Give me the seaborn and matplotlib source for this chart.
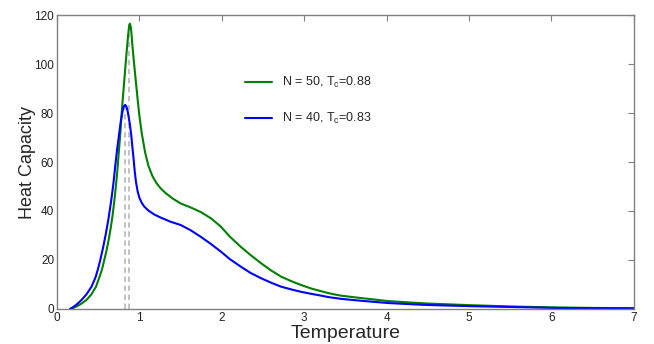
import numpy as np
import pandas as pd
import matplotlib
matplotlib.use("Agg")
import matplotlib.pyplot as plt
import seaborn as sns

# values
temp_n50 = [0.16, 0.20, 0.25, 0.30, 0.36, 0.42, 0.475, 0.525, 0.55, 0.575, 0.60, 0.63,
            0.655, 0.675, 0.70, 0.72, 0.735, 0.75, 0.768, 0.785, 0.80, 0.817, 0.835, 0.85,
            0.865, 0.875, 0.885, 0.895, 0.905, 0.918, 0.94, 0.96, 0.98, 1.0, 1.03, 1.07,
            1.11, 1.16, 1.21, 1.26, 1.32, 1.40, 1.5, 1.62, 1.744, 1.87, 1.99, 2.1, 2.23,
            2.35, 2.48, 2.6, 2.72, 2.84, 2.96, 3.08, 3.21, 3.3, 3.45, 3.7, 4.02, 4.25,
            4.5, 5.04, 5.5, 6.05, 6.5, 7.0]
heat_n50 = [0.0, 0.4, 1.2, 2.2, 3.7, 6.0, 9.1, 13.8, 16.5, 20.0, 23.5, 28.5,
            33.5, 38.0, 45.0, 51.5, 57.0, 63.5, 71.0, 79.5, 86.0, 93.0, 100.5, 106.4,
            112.0, 115.2, 116.5, 115.5, 112.5, 107.0, 99.0, 92.3, 85.5, 79.2, 71.7, 64.0,
            58.5, 54.2, 51.3, 49.2, 47.3, 45.2, 43.1, 41.5, 39.6, 37.0, 33.6, 29.5, 25.4,
            22.0, 18.6, 15.7, 13.2, 11.4, 9.8, 8.4, 7.2, 6.4, 5.4, 4.4, 3.2, 2.7,
            2.2, 1.5, 1.0, 0.6, 0.4, 0.3]

temp_n40 = [0.16, 0.19, 0.22, 0.26, 0.30, 0.36, 0.42, 0.47, 0.50, 0.53, 0.56, 0.59,
            0.626, 0.66, 0.685, 0.707, 0.73, 0.756, 0.775, 0.79, 0.80, 0.81, 0.82, 0.829,
            0.84, 0.85, 0.86, 0.87, 0.885, 0.90, 0.915, 0.93, 0.945, 0.96, 0.98, 1.0,
            1.03, 1.06, 1.11, 1.18, 1.26, 1.38, 1.5, 1.62, 1.744, 1.87, 1.99, 2.1, 2.23,
            2.35, 2.48, 2.6, 2.72, 2.84, 2.96, 3.08, 3.21, 3.3, 3.45, 3.7, 4.02, 4.25,
            4.5, 5.04, 5.5, 6.05, 6.5, 7.0]
heat_n40 = [0.0, 0.6, 1.3, 2.4, 3.7, 6.0, 9.1, 13.0, 16.5, 20.5, 25.0, 30.0,
            36.8, 44.5, 51.0, 58.0, 65.0, 71.7, 76.5, 79.5, 81.3, 82.5, 83.1, 83.3,
            82.9, 82.0, 80.5, 78.5, 75.5, 71.7, 66.5, 61.5, 56.0, 51.8, 48.0, 45.5,
            43.3, 41.8, 40.2, 38.6, 37.3, 35.6, 34.3, 32.2, 29.5, 26.5, 23.4, 20.3, 17.3,
            14.7, 12.5, 10.7, 9.1, 8.0, 7.0, 6.2, 5.4, 4.8, 4.1, 3.3, 2.4, 2.0,
            1.6, 1.1, 0.8, 0.4, 0.3, 0.2]

critical_temps = [0.83, 0.88]
critical_peaks = [83.3, 116.5]

labels = ["N = 50, T$_\\mathregular{c}$=0.88", "N = 40, T$_\\mathregular{c}$=0.83"]
colors = ["#008000", "#0000ff"]

df = pd.concat([
    pd.DataFrame({"Temperature": temp_n50, "Heat Capacity": heat_n50, "series": labels[0]}),
    pd.DataFrame({"Temperature": temp_n40, "Heat Capacity": heat_n40, "series": labels[1]}),
])

sns.set_style("white")
plt.rcParams["font.family"] = ["Liberation Sans", "DejaVu Sans"]
plt.rcParams["mathtext.fontset"] = "custom"
plt.rcParams["mathtext.rm"] = "Liberation Sans"

fig = plt.figure(figsize=(6.54, 3.44), dpi=100)
ax = fig.add_axes([0.087, 0.102, 0.882, 0.854])

ax.vlines(critical_temps, 0, critical_peaks, colors="#bdbdbd", linestyles=(0, (3, 2)), lw=1.3)

sns.lineplot(data=df, x="Temperature", y="Heat Capacity", hue="series",
             palette=colors, lw=1.5, ax=ax)
for line in ax.get_lines():
    line.set_solid_joinstyle("round")

ax.set_xlim(0, 7)
ax.set_ylim(0, 120)
ax.set_xticks(range(0, 8))
ax.set_yticks(range(0, 121, 20))
ax.tick_params(direction="in", length=4, width=0.8, color="#808080",
               labelsize=8.5, labelcolor="#222222", top=True, right=True, pad=2)
for s in ax.spines.values():
    s.set_color("#808080")
    s.set_linewidth(1.0)

ax.set_xlabel("Temperature", fontsize=14, labelpad=1)
ax.set_ylabel("Heat Capacity", fontsize=13, labelpad=-1)

ax.legend(loc="upper left", bbox_to_anchor=(0.307, 0.834), frameon=False, fontsize=9,
          handlelength=2.15, handletextpad=0.8, labelspacing=1.65)

fig.savefig("out.png", dpi=100)
